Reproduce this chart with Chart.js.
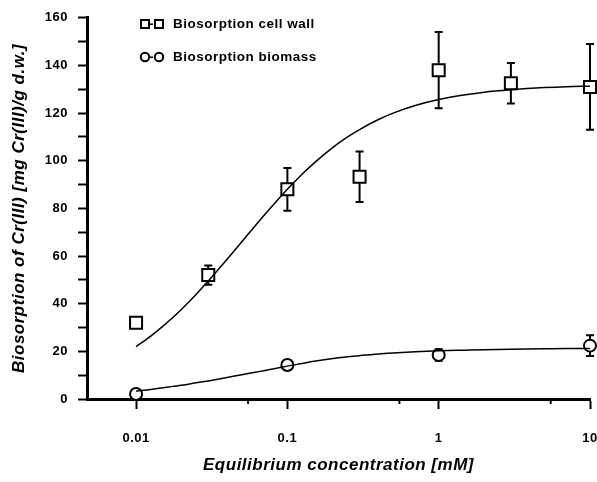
<!DOCTYPE html>
<html>
<head>
<meta charset="utf-8">
<script src="https://cdn.jsdelivr.net/npm/chart.js@4.4.1/dist/chart.umd.min.js"></script>
<style>
  html, body { margin: 0; padding: 0; background: #fff; }
</style>
</head>
<body>
<canvas id="isotherm" width="597" height="482"></canvas>
<script>
// measured points
const concentration = [0.01, 0.03, 0.1, 0.3, 1, 3, 10];
const cellWall = [32, 52, 88, 93.3, 138, 132.5, 131];
const cellWallErr = [1.6, 4, 9, 10.6, 16, 8.5, 18];

const biomassConc = [0.01, 0.1, 1, 10];
const biomass = [2.1, 14.3, 18.5, 22.4];
const biomassErr = [1.4, 2, 2.4, 4.4];

// fitted curves
const fitConc = [0.01, 0.0125, 0.015, 0.0175, 0.02, 0.025, 0.03, 0.04, 0.05, 0.06, 0.07, 0.085, 0.1, 0.125, 0.15, 0.2, 0.25, 0.3, 0.4, 0.5, 0.7, 1, 1.5, 2, 3, 5, 7, 10];
const cellWallFit = [22, 26.4, 30.5, 34.2, 37.7, 44, 49.5, 58.7, 66, 72, 77, 83.1, 88, 94.3, 99, 105.6, 110, 113.1, 117.3, 120, 123.2, 125.7, 127.7, 128.8, 129.8, 130.7, 131.1, 131.3];
const biomassFit = [3.3, 4, 4.7, 5.3, 5.8, 6.8, 7.6, 9, 10.2, 11.1, 11.9, 12.9, 13.8, 14.9, 15.8, 17, 17.7, 18.2, 18.9, 19.3, 19.8, 20.2, 20.5, 20.7, 20.9, 21.1, 21.2, 21.2];

// axis ticks
const xMajorTicks = [0.01, 0.1, 1, 10];
const xTickLabels = ['0.01', '0.1', '1', '10'];
const xMinorTicks = [0.055, 0.55, 5.5];

const FONT = "'Liberation Sans', Arial, sans-serif";

function pts(xs, ys) {
    return xs.map((x, i) => ({ x: x, y: ys[i] }));
}

// the original text is set a little wide
const spacing = {
    id: 'spacing',
    beforeUpdate(chart) { chart.ctx.letterSpacing = '0.5px'; },
    beforeDraw(chart) { chart.ctx.letterSpacing = '0.5px'; }
};

const errorBars = {
    id: 'errorBars',
    beforeDatasetsDraw(chart) {
        const { ctx, scales: { x, y } } = chart;
        const sets = [
            [concentration, cellWall, cellWallErr],
            [biomassConc, biomass, biomassErr]
        ];
        ctx.save();
        ctx.strokeStyle = '#000';
        ctx.lineWidth = 2;
        sets.forEach(([xs, ys, es]) => {
            xs.forEach((xv, i) => {
                const px = x.getPixelForValue(xv);
                const top = y.getPixelForValue(ys[i] + es[i]);
                const bot = y.getPixelForValue(ys[i] - es[i]);
                ctx.beginPath();
                ctx.moveTo(px, top); ctx.lineTo(px, bot);
                ctx.moveTo(px - 4, top); ctx.lineTo(px + 4, top);
                ctx.moveTo(px - 4, bot); ctx.lineTo(px + 4, bot);
                ctx.stroke();
            });
        });
        // short minor ticks on the log axis
        xMinorTicks.forEach(v => {
            const px = x.getPixelForValue(v);
            ctx.beginPath();
            ctx.moveTo(px, y.bottom);
            ctx.lineTo(px, y.bottom + 5);
            ctx.stroke();
        });
        ctx.restore();
    }
};

const keyBox = {
    id: 'keyBox',
    afterDraw(chart) {
        const { ctx } = chart;
        const rows = [
            { shape: 'rect', text: 'Biosorption cell wall', y: 24 },
            { shape: 'circle', text: 'Biosorption biomass', y: 57 }
        ];
        ctx.save();
        ctx.strokeStyle = '#000';
        ctx.fillStyle = '#000';
        ctx.lineWidth = 2;
        ctx.font = 'bold 13.5px ' + FONT;
        ctx.textBaseline = 'middle';
        rows.forEach(r => {
            [145, 159].forEach(cx => {
                ctx.beginPath();
                if (r.shape === 'rect') ctx.rect(cx - 4, r.y - 4, 8, 8);
                else ctx.arc(cx, r.y, 4.2, 0, Math.PI * 2);
                ctx.stroke();
            });
            ctx.fillText('-', 149, r.y);
            ctx.fillText(r.text, 173, r.y);
        });
        ctx.restore();
    }
};

new Chart(document.getElementById('isotherm'), {
    type: 'line',
    data: {
        datasets: [
            {
                data: pts(fitConc, cellWallFit),
                borderColor: '#000',
                borderWidth: 1.5,
                pointRadius: 0,
                cubicInterpolationMode: 'monotone',
                clip: false
            },
            {
                data: pts(fitConc, biomassFit),
                borderColor: '#000',
                borderWidth: 1.5,
                pointRadius: 0,
                cubicInterpolationMode: 'monotone',
                clip: false
            },
            {
                data: pts(concentration, cellWall),
                showLine: false,
                pointStyle: 'rect',
                pointRadius: 8.5,
                pointBorderWidth: 2,
                pointBorderColor: '#000',
                pointBackgroundColor: '#fff',
                clip: false
            },
            {
                data: pts(biomassConc, biomass),
                showLine: false,
                pointStyle: 'circle',
                pointRadius: 6,
                pointBorderWidth: 2,
                pointBorderColor: '#000',
                pointBackgroundColor: '#fff',
                clip: false
            }
        ]
    },
    options: {
        responsive: false,
        animation: false,
        layout: { autoPadding: false, padding: { top: 16, right: 7, left: 0, bottom: 0 } },
        plugins: {
            legend: { display: false },
            tooltip: { enabled: false }
        },
        scales: {
            x: {
                type: 'logarithmic',
                min: 0.00474,
                max: 10,
                afterBuildTicks(scale) {
                    scale.ticks = xMajorTicks.map(v => ({ value: v }));
                },
                afterFit(scale) {
                    scale.height = 83;
                    scale.paddingRight = 0;
                },
                ticks: {
                    autoSkip: false,
                    maxRotation: 0,
                    padding: 22,
                    color: '#000',
                    font: { family: FONT, size: 13, weight: 'bold' },
                    callback: (v) => {
                        const i = xMajorTicks.indexOf(v);
                        return i >= 0 ? xTickLabels[i] : '';
                    }
                },
                grid: {
                    drawOnChartArea: false,
                    tickLength: 10,
                    tickWidth: 2,
                    tickColor: '#000'
                },
                border: { display: true, color: '#000', width: 3 },
                title: {
                    display: true,
                    text: 'Equilibrium concentration [mM]',
                    color: '#000',
                    font: { family: FONT, size: 17, weight: 'bold', style: 'italic' },
                    padding: { top: 0, bottom: 6 }
                }
            },
            y: {
                min: 0,
                max: 160,
                afterFit(scale) { scale.width = 87; },
                ticks: {
                    stepSize: 10,
                    padding: 10,
                    color: '#000',
                    font: { family: FONT, size: 13, weight: 'bold' },
                    callback: (v) => (v % 20 === 0 ? v : '')
                },
                grid: {
                    drawOnChartArea: false,
                    tickLength: 9,
                    tickWidth: 2,
                    tickColor: '#000'
                },
                border: { display: true, color: '#000', width: 3 },
                title: {
                    display: true,
                    text: 'Biosorption of Cr(III) [mg Cr(III)/g d.w.]',
                    color: '#000',
                    font: { family: FONT, size: 17, weight: 'bold', style: 'italic' },
                    padding: { top: 9, bottom: 0 }
                }
            }
        }
    },
    plugins: [spacing, errorBars, keyBox]
});
</script>
</body>
</html>
